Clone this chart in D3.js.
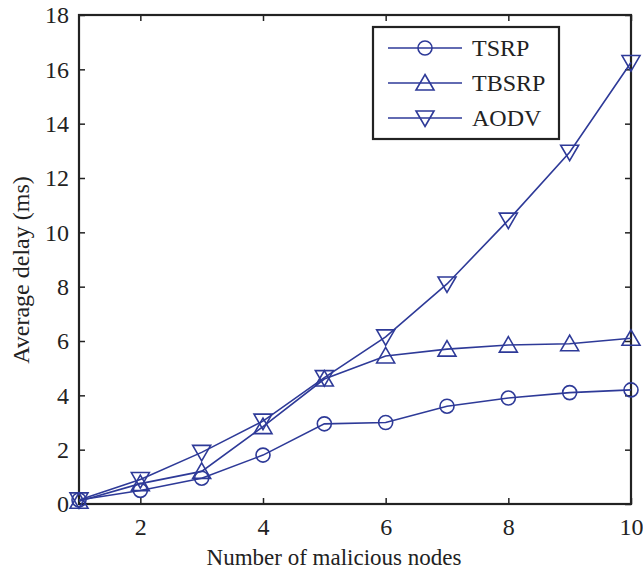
<!DOCTYPE html>
<html>
<head>
<meta charset="utf-8">
<script src="https://cdn.jsdelivr.net/npm/d3@7"></script>
<style>
  body { margin: 0; background: #fff; }
  text { font-family: "Liberation Serif", "Times New Roman", serif; fill: #222; }
</style>
</head>
<body>
<div id="chart"></div>
<script>
var nodes = [1, 2, 3, 4, 5, 6, 7, 8, 9, 10];
var tsrp  = [0.15, 0.5, 0.95, 1.8, 2.95, 3.0, 3.6, 3.9, 4.1, 4.2];
var tbsrp = [0.1, 0.75, 1.2, 2.85, 4.6, 5.45, 5.7, 5.85, 5.9, 6.1];
var aodv  = [0.15, 0.9, 1.9, 3.05, 4.65, 6.15, 8.1, 10.45, 12.95, 16.25];
var seriesNames = ["TSRP", "TBSRP", "AODV"];
var xTicks = [2, 4, 6, 8, 10];
var yTicks = [0, 2, 4, 6, 8, 10, 12, 14, 16, 18];

var svg_width = 643;
var svg_height = 571;
var margin = { top: 15, bottom: 67, left: 79, right: 12 };
var width = svg_width - margin.left - margin.right;
var height = svg_height - margin.top - margin.bottom;
var blue = "#2e3a98";
var ink = "#222";

var svg = d3.select("#chart")
    .append("svg")
    .attr("width", svg_width)
    .attr("height", svg_height);

var chartGroup = svg.append("g")
    .attr("transform", `translate(${margin.left}, ${margin.top})`);

var x_scale = d3.scaleLinear().domain([1, 10]).range([0, width]);
var y_scale = d3.scaleLinear().domain([0, 18]).range([height, 0]);

// axes, matlab style: ticks inward on all four sides
var tickLen = 6;
function styleAxis(g) {
    g.select(".domain").remove();
    g.selectAll(".tick line").attr("stroke", ink).attr("stroke-width", 1.5);
    g.selectAll(".tick text").style("font-size", "24px").attr("fill", ink);
}
chartGroup.append("g")
    .attr("transform", `translate(0,${height})`)
    .call(d3.axisBottom(x_scale).tickValues(xTicks).tickSize(-tickLen).tickPadding(14))
    .call(styleAxis);
chartGroup.append("g")
    .call(d3.axisTop(x_scale).tickValues(xTicks).tickSize(-tickLen).tickFormat(""))
    .call(styleAxis);
chartGroup.append("g")
    .call(d3.axisLeft(y_scale).tickValues(yTicks).tickSize(-tickLen).tickPadding(10))
    .call(styleAxis);
chartGroup.append("g")
    .attr("transform", `translate(${width},0)`)
    .call(d3.axisRight(y_scale).tickValues(yTicks).tickSize(-tickLen).tickFormat(""))
    .call(styleAxis);

chartGroup.append("rect")
    .attr("width", width)
    .attr("height", height)
    .attr("fill", "none")
    .attr("stroke", ink)
    .attr("stroke-width", 2.2);

// markers
function drawMarker(g, kind) {
    if (kind === 0) {
        g.append("circle").attr("r", 7);
    } else if (kind === 1) {
        g.append("path").attr("d", "M0,-8.5L9,7L-9,7Z");
    } else {
        g.append("path").attr("d", "M0,8.5L9,-7L-9,-7Z");
    }
    g.selectAll("circle,path")
        .attr("fill", "none")
        .attr("stroke", blue)
        .attr("stroke-width", 1.6);
}

var line = d3.line()
    .x((d, i) => x_scale(nodes[i]))
    .y(d => y_scale(d));

[tsrp, tbsrp, aodv].forEach(function (vals, k) {
    chartGroup.append("path")
        .datum(vals)
        .attr("d", line)
        .attr("fill", "none")
        .attr("stroke", blue)
        .attr("stroke-width", 1.6);
    chartGroup.selectAll(".m" + k)
        .data(vals)
        .enter()
        .append("g")
        .attr("class", "m" + k)
        .attr("transform", (d, i) => `translate(${x_scale(nodes[i])},${y_scale(d)})`)
        .each(function () { drawMarker(d3.select(this), k); });
});

// legend
var legend = svg.append("g").attr("transform", "translate(373,27)");
legend.append("rect")
    .attr("width", 186)
    .attr("height", 112)
    .attr("fill", "#fff")
    .attr("stroke", ink)
    .attr("stroke-width", 2.2);
seriesNames.forEach(function (name, k) {
    var ly = 21 + k * 35;
    legend.append("line")
        .attr("x1", 15).attr("x2", 89)
        .attr("y1", ly).attr("y2", ly)
        .attr("stroke", blue)
        .attr("stroke-width", 1.6);
    var mg = legend.append("g").attr("transform", `translate(52,${ly})`);
    drawMarker(mg, k);
    legend.append("text")
        .attr("x", 99)
        .attr("y", ly + 8)
        .style("font-size", "24px")
        .text(name);
});

// axis titles
svg.append("text")
    .attr("x", 334)
    .attr("y", 565)
    .attr("text-anchor", "middle")
    .style("font-size", "23px")
    .text("Number of malicious nodes");

svg.append("text")
    .attr("transform", "translate(29,270) rotate(-90)")
    .attr("text-anchor", "middle")
    .style("font-size", "24px")
    .text("Average delay (ms)");
</script>
</body>
</html>
